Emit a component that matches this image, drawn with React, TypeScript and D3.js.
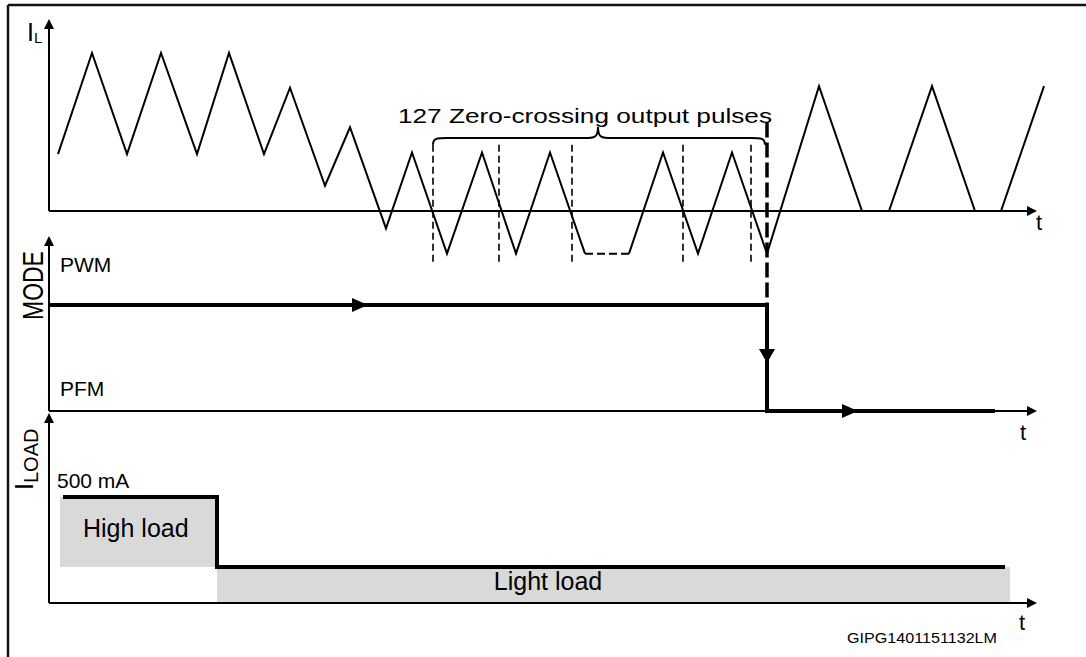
import React from "react";
import * as d3 from "d3";

const W = 1086;
const H = 657;
const FONT = "'Liberation Sans', Arial, sans-serif";

// inductor current I_L (time units, relative current)
const ilTime = [9, 43, 78, 112, 148, 180, 215, 241, 276, 301, 337, 363, 398, 433, 467, 501, 536, 580, 614, 649, 683, 718, 770, 813, 840, 883, 926, 952, 995];
const ilValue = [36, 100, 36, 100, 36, 100, 36, 78, 16, 53, -11, 37, -27, 37, -27, 37, -27, -27, 37, -27, 37, -27, 79, 0, 0, 79, 0, 0, 79];
const ilGapIndex = 16; // segment 16 -> 17 is the dashed "..." part

const zeroCrossTimes = [384, 450, 523, 634, 702];
const switchTime = 718;

// MODE
const modeTime = [0, 718, 718, 946];
const modeState = ["PWM", "PWM", "PFM", "PFM"];
const modeLevels = ["PFM", "PWM"];
const modeArrowTimes = [319, 809];

// I_LOAD (mA)
const loadTime = [14, 168, 168, 956];
const loadValue = [500, 500, 170, 170];
const highLoadSpan = [11, 168];
const lightLoadSpan = [168, 961];

const axisEnd = 988;

export default function App() {
  const x = d3.scaleLinear().domain([0, 1000]).range([49, 1049]);
  const yI = d3.scaleLinear().domain([0, 100]).range([211, 53]);
  const yMode = d3.scalePoint<string>().domain(modeLevels).range([411, 305]);
  const yLoad = d3.scaleLinear().domain([0, 500]).range([603, 497]);

  const ilPts = ilTime.map((t, i) => [t, ilValue[i]] as [number, number]);
  const line = d3.line<[number, number]>().x(d => x(d[0])).y(d => yI(d[1]));
  const solidA = line(ilPts.slice(0, ilGapIndex + 1));
  const dashed = line(ilPts.slice(ilGapIndex, ilGapIndex + 2));
  const solidB = line(ilPts.slice(ilGapIndex + 1));

  const modeLine = d3.line<number>().x(i => x(modeTime[i])).y(i => yMode(modeState[i]) as number)(d3.range(modeTime.length));
  const loadLine = d3.line<number>().x(i => x(loadTime[i])).y(i => yLoad(loadValue[i]))(d3.range(loadTime.length));

  const x0 = x(0);
  const xEnd = x(axisEnd);
  const xSw = x(switchTime);

  const rightArrow = (tx: number, ty: number, len = 10, hw = 5) => `M${tx},${ty}L${tx - len},${ty - hw}L${tx - len},${ty + hw}Z`;
  const upArrow = (tx: number, ty: number, len = 10, hw = 5) => `M${tx},${ty}L${tx - hw},${ty + len}L${tx + hw},${ty + len}Z`;
  const downArrow = (tx: number, ty: number, len = 14, hw = 8) => `M${tx},${ty}L${tx - hw},${ty - len}L${tx + hw},${ty - len}Z`;

  // brace over zero-crossing pulses
  const bL = x(zeroCrossTimes[0]);
  const bR = x(switchTime) - 2;
  const bM = x(549);
  const bEnd = yI(42);
  const bMid = yI(46.2);
  const bTip = yI(53.2);
  const brace = `M${bL},${bEnd} C${bL},${bMid} ${bL + 4},${bMid} ${bL + 14},${bMid} L${bM - 14},${bMid} C${bM - 4},${bMid} ${bM},${bMid} ${bM},${bTip} C${bM},${bMid} ${bM + 4},${bMid} ${bM + 14},${bMid} L${bR - 14},${bMid} C${bR - 4},${bMid} ${bR},${bMid} ${bR},${bEnd}`;

  const text = { fontFamily: FONT, fill: "#000" };

  return (
    <svg width={W} height={H} style={{ position: "absolute", left: 0, top: 0, background: "#fff" }}>
      {/* frame */}
      <line x1={8} x2={W} y1={5} y2={5} stroke="#111" strokeWidth={2.5} />
      <line x1={8} x2={8} y1={5} y2={H} stroke="#111" strokeWidth={2.5} />

      {/* ---------- I_L panel ---------- */}
      <line x1={x0} x2={x0} y1={28} y2={yI(0)} stroke="#000" strokeWidth={2} />
      <path d={upArrow(x0, 19)} fill="#000" />
      <line x1={x0} x2={xEnd - 8} y1={yI(0)} y2={yI(0)} stroke="#000" strokeWidth={2} />
      <path d={rightArrow(xEnd, yI(0))} fill="#000" />
      <text x={27} y={41} fontSize={25} style={text}>I<tspan fontSize={15} dy={2}>L</tspan></text>
      <text x={1036} y={230} fontSize={22} style={text}>t</text>

      <path d={solidA ?? ""} fill="none" stroke="#000" strokeWidth={2} strokeLinejoin="miter" />
      <path d={dashed ?? ""} fill="none" stroke="#000" strokeWidth={2} strokeDasharray="8,4" />
      <path d={solidB ?? ""} fill="none" stroke="#000" strokeWidth={2} strokeLinejoin="miter" />

      {zeroCrossTimes.map(t => (
        <line key={t} x1={x(t)} x2={x(t)} y1={yI(42)} y2={yI(-33)} stroke="#000" strokeWidth={1.6} strokeDasharray="7,4" />
      ))}

      <path d={brace} fill="none" stroke="#000" strokeWidth={2} />
      <text x={398} y={123} fontSize={21} textLength={374} lengthAdjust="spacingAndGlyphs" style={text}>127 Zero-crossing output pulses</text>

      {/* mode switch marker */}
      <line x1={xSw} x2={xSw} y1={yI(56)} y2={yMode("PWM") as number} stroke="#000" strokeWidth={3.5} strokeDasharray="15,5" />

      {/* ---------- MODE panel ---------- */}
      <line x1={x0} x2={x0} y1={245} y2={yMode("PFM") as number} stroke="#000" strokeWidth={2} />
      <path d={upArrow(x0, 236)} fill="#000" />
      <line x1={x0} x2={xEnd - 8} y1={yMode("PFM") as number} y2={yMode("PFM") as number} stroke="#000" strokeWidth={2} />
      <path d={rightArrow(xEnd, yMode("PFM") as number)} fill="#000" />
      <text transform="translate(43,320) rotate(-90) scale(1,1.25)" fontSize={23} style={text}>MODE</text>
      <text x={60} y={272} fontSize={21} style={text}>PWM</text>
      <text x={60} y={396} fontSize={21} style={text}>PFM</text>
      <text x={1020} y={440} fontSize={22} style={text}>t</text>

      <path d={modeLine ?? ""} fill="none" stroke="#000" strokeWidth={4} />
      <path d={rightArrow(x(modeArrowTimes[0]), yMode("PWM") as number, 16, 7)} fill="#000" />
      <path d={downArrow(xSw, 363)} fill="#000" />
      <path d={rightArrow(x(modeArrowTimes[1]), yMode("PFM") as number, 16, 7)} fill="#000" />

      {/* ---------- I_LOAD panel ---------- */}
      <rect x={x(highLoadSpan[0])} width={x(highLoadSpan[1]) - x(highLoadSpan[0])} y={yLoad(500)} height={yLoad(170) - yLoad(500)} fill="#d9d9d9" />
      <rect x={x(lightLoadSpan[0])} width={x(lightLoadSpan[1]) - x(lightLoadSpan[0])} y={yLoad(170)} height={yLoad(0) - yLoad(170)} fill="#d9d9d9" />
      <line x1={x0} x2={x0} y1={422} y2={yLoad(0)} stroke="#000" strokeWidth={2} />
      <path d={upArrow(x0, 413)} fill="#000" />
      <line x1={x0} x2={xEnd - 8} y1={yLoad(0)} y2={yLoad(0)} stroke="#000" strokeWidth={2} />
      <path d={rightArrow(xEnd, yLoad(0))} fill="#000" />
      <path d={loadLine ?? ""} fill="none" stroke="#000" strokeWidth={4} />

      <text transform="translate(33,490) rotate(-90)" fontSize={25} style={text}>I<tspan fontSize={20} dy={5}>LOAD</tspan></text>
      <text x={57} y={488} fontSize={21} style={text}>500 mA</text>
      <text x={83} y={537} fontSize={25} style={text}>High load</text>
      <text x={548} y={590} fontSize={25} textAnchor="middle" style={text}>Light load</text>
      <text x={1019} y={630} fontSize={22} style={text}>t</text>
      <text x={847} y={643} fontSize={15} textLength={150} lengthAdjust="spacingAndGlyphs" style={text}>GIPG1401151132LM</text>
    </svg>
  );
}
